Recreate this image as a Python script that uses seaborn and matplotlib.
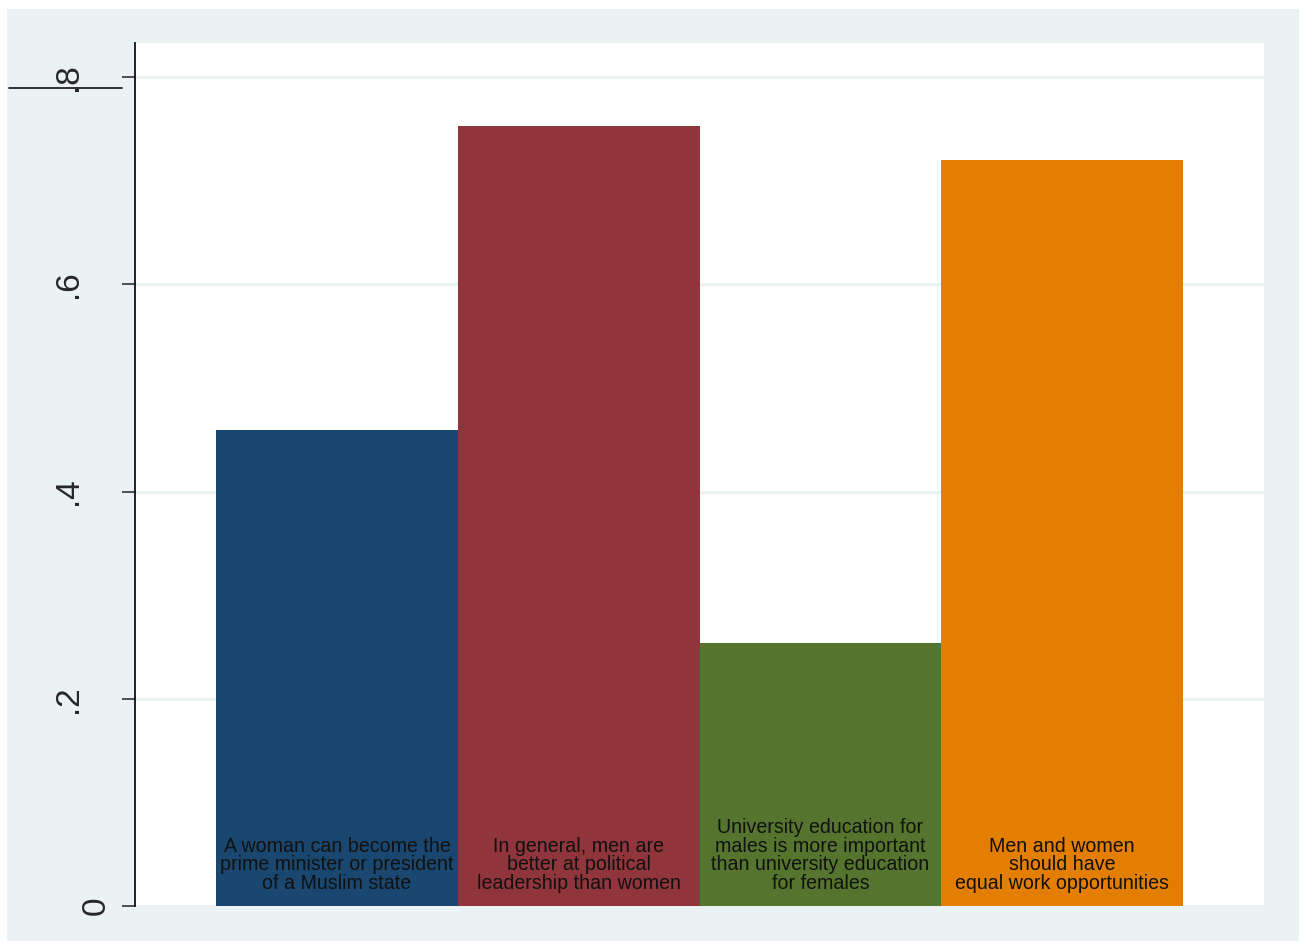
import matplotlib
matplotlib.use("Agg")
import matplotlib.pyplot as plt
from matplotlib.lines import Line2D
from matplotlib.patches import Rectangle
from matplotlib.transforms import ScaledTranslation
import pandas as pd
import seaborn as sns

# data
statements = [
    "A woman can become the\nprime minister or president\nof a Muslim state",
    "In general, men are\nbetter at political\nleadership than women",
    "University education for\nmales is more important\nthan university education\nfor females",
    "Men and women\nshould have\nequal work opportunities",
]
shares = [0.459, 0.753, 0.254, 0.720]
bar_colors = ["#1a476f", "#90353b", "#55752f", "#e37e00"]
y_ticks = [0, 0.2, 0.4, 0.6, 0.8]
y_tick_labels = ["0", ".2", ".4", ".6", ".8"]

BG = "#eaf2f3"

sns.set_style("white")
plt.rcParams["font.family"] = ["Liberation Sans", "DejaVu Sans"]

df = pd.DataFrame({"statement": statements, "share": shares})

fig = plt.figure(figsize=(13.01, 9.43), dpi=100, facecolor="white")
fig.add_artist(Rectangle((7 / 1301, 2 / 943), 1292 / 1301, 932 / 943,
                         transform=fig.transFigure, facecolor=BG,
                         edgecolor="none", zorder=-10))
ax = fig.add_axes([135 / 1301, 37 / 943, 1129 / 1301, 863 / 943])
ax.set_facecolor("white")

sns.barplot(data=df, x="statement", y="share", hue="statement",
            palette=bar_colors, width=1.0, linewidth=0, saturation=1,
            legend=False, ax=ax, zorder=2)

for i, s in enumerate(statements):
    ax.text(i, 0.0125, s, ha="center", va="bottom", multialignment="center",
            fontsize=14.1, linespacing=0.98, color="#111111", zorder=3)

ax.set_xlim(-0.836, 3.836)
ax.set_ylim(0, 0.833)
ax.set_yticks(y_ticks)
ax.set_yticklabels(y_tick_labels, rotation=90, va="center", fontsize=24)
ax.tick_params(axis="y", length=9.5, width=1.1, pad=27, left=True, color="#222222")
# the "0" label sits closer to the axis in the original
ax.get_yticklabels()[0].set_transform(
    ax.get_yticklabels()[0].get_transform() + ScaledTranslation(0.27, 0, fig.dpi_scale_trans))
ax.set_xticks([])
ax.set_xlabel("")
ax.set_ylabel("")
ax.yaxis.grid(True, color=BG, linewidth=2.2, zorder=0)
ax.set_axisbelow(True)
for side in ["top", "right", "bottom"]:
    ax.spines[side].set_visible(False)
ax.spines["left"].set_linewidth(1.3)
ax.spines["left"].set_color("#111111")

# stray rule under the top tick label, as in the original export
fig.add_artist(Line2D([9 / 1301, 122 / 1301], [1 - 88 / 943, 1 - 88 / 943],
                      transform=fig.transFigure, color="#222222", linewidth=1.3))

fig.savefig("out.png", dpi=100, facecolor="white")
